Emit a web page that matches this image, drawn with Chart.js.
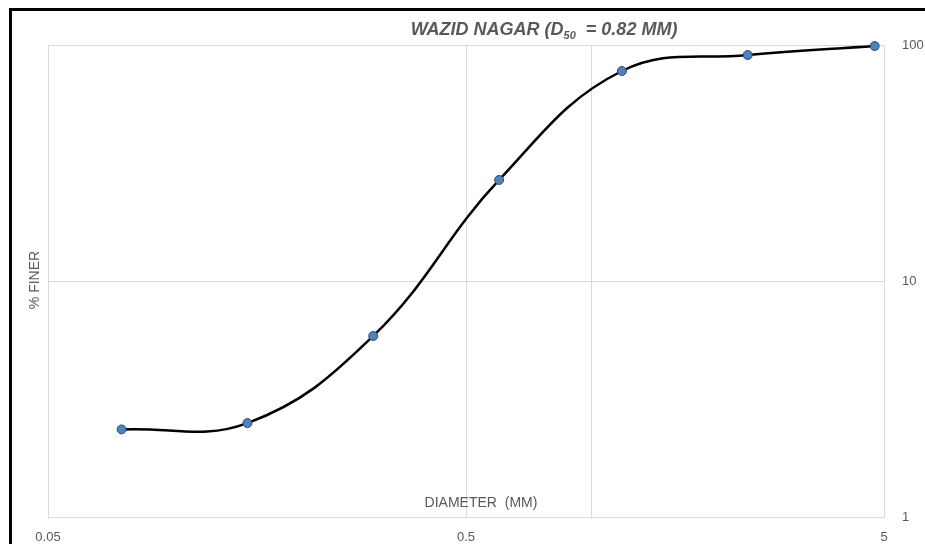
<!DOCTYPE html>
<html>
<head>
<meta charset="utf-8">
<script src="https://cdn.jsdelivr.net/npm/chart.js@4"></script>
<style>
  html, body { margin: 0; padding: 0; background: #fff; }
  #wrap { position: relative; width: 925px; height: 544px; }
  #frame { position: absolute; left: 9px; top: 8px; right: 0; bottom: 0;
           border-left: 3px solid #000; border-top: 3px solid #000; pointer-events: none; }
</style>
</head>
<body>
<div id="wrap">
  <canvas id="gradChart" width="925" height="544"></canvas>
  <div id="frame"></div>
</div>
<script>
// datos de la curva granulométrica
const sieveSizes = [0.075, 0.15, 0.3, 0.6, 1.18, 2.36, 4.75];
const percentFiner = [2.35, 2.5, 5.85, 26.8, 77.6, 90.7, 99];
const xTicks = [0.05, 0.5, 1, 5];
const xLabels = ['0.05', '0.5', '', '5'];
const yTicks = [1, 10, 100];

const GREY = '#595959';
const GRID = '#d9d9d9';
const FONT = '"Liberation Sans", Arial, sans-serif';

// titulos dibujados a mano (subindice en D50)
const titlesPlugin = {
  id: 'titles',
  afterDraw(chart) {
    const c = chart.ctx;
    c.save();
    c.fillStyle = GREY;
    c.textBaseline = 'alphabetic';
    const big = 'bold italic 18px ' + FONT;
    const small = 'bold italic 11px ' + FONT;
    const p1 = 'WAZID NAGAR (D', p2 = '50', p3 = '  = 0.82 MM)';
    c.font = big; const w1 = c.measureText(p1).width, w3 = c.measureText(p3).width;
    c.font = small; const w2 = c.measureText(p2).width;
    let x = 544 - (w1 + w2 + w3) / 2;
    const y = 35;
    c.font = big; c.fillText(p1, x, y); x += w1;
    c.font = small; c.fillText(p2, x, y + 4); x += w2;
    c.font = big; c.fillText(p3, x, y);

    c.font = '14px ' + FONT;
    c.textAlign = 'center';
    c.textBaseline = 'middle';
    c.fillText('DIAMETER  (MM)', 481, 503);
    c.translate(35, 280);
    c.rotate(-Math.PI / 2);
    c.fillText('% FINER', 0, 0);
    c.restore();
  }
};

new Chart(document.getElementById('gradChart'), {
  type: 'line',
  data: {
    datasets: [{
      data: sieveSizes.map((s, i) => ({ x: s, y: percentFiner[i] })),
      borderColor: '#000', borderWidth: 2.5, tension: 0.4, clip: false,
      pointRadius: 4.5, pointBackgroundColor: '#4f81bd',
      pointBorderColor: '#2c4d75', pointBorderWidth: 1
    }]
  },
  options: {
    responsive: false, animation: false,
    layout: { padding: { left: 48, top: 45, right: 0, bottom: 0 } },
    plugins: { legend: { display: false }, tooltip: { enabled: false } },
    scales: {
      x: {
        type: 'logarithmic', min: 0.05, max: 5,
        afterBuildTicks: ax => { ax.ticks = xTicks.map(v => ({ value: v })); },
        afterFit: ax => { ax.height = 27; },
        ticks: {
          autoSkip: false, maxRotation: 0, padding: 13, color: GREY,
          font: { family: FONT, size: 13 },
          callback: (v, i) => xLabels[i]
        },
        grid: { color: GRID, drawTicks: false },
        border: { color: GRID }
      },
      y: {
        type: 'logarithmic', position: 'right', min: 1, max: 100,
        afterBuildTicks: ax => { ax.ticks = yTicks.map(v => ({ value: v })); },
        afterFit: ax => { ax.width = 41; },
        ticks: {
          padding: 18, color: GREY, font: { family: FONT, size: 13 },
          callback: v => String(v)
        },
        grid: { color: GRID, drawTicks: false },
        border: { color: GRID }
      }
    }
  },
  plugins: [titlesPlugin]
});
</script>
</body>
</html>
